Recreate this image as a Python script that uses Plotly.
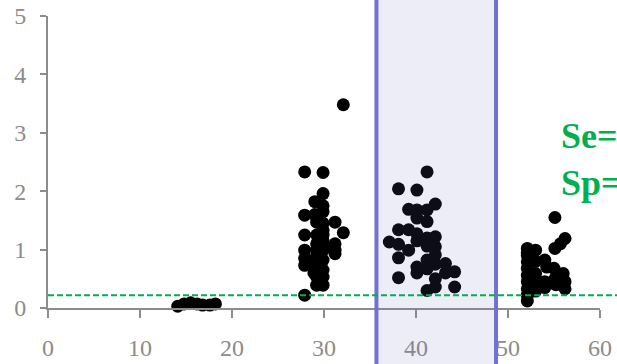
import plotly.graph_objects as go

# Group A (~15)
ga_x = [14.1, 14.8, 15.5, 16.2, 16.8, 17.6, 18.2]
ga_y = [0.03, 0.07, 0.09, 0.07, 0.05, 0.05, 0.07]

# Group B (~30)
gb_x = [27.9, 29.9, 32.1, 29.9, 29.0, 29.9, 29.9, 27.9, 29.2, 31.2, 32.1,
        27.9, 29.9, 29.2, 31.2, 31.2, 27.9, 29.9, 29.9, 29.2, 27.9, 29.2,
        29.9, 29.9, 29.2, 29.9, 29.2, 29.9, 27.9, 31.2, 31.0, 29.9, 29.9,
        29.2, 29.2, 28.8, 29.5, 29.5, 28.9, 29.0, 27.9]
gb_y = [2.33, 2.32, 3.48, 1.96, 1.82, 1.75, 1.65, 1.59, 1.47, 1.47, 1.29,
        1.25, 1.33, 1.10, 1.10, 0.99, 0.99, 0.99, 1.15, 0.90, 0.73, 0.70,
        0.82, 0.65, 0.53, 0.53, 0.39, 0.39, 0.22, 0.93, 1.05, 1.45, 1.25,
        1.25, 1.00, 0.80, 0.95, 1.20, 0.60, 1.60, 0.85]

# Group C (~40)
gc_x = [41.2, 38.1, 40.1, 39.2, 40.1, 40.1, 41.2, 42.1, 41.2, 38.1, 39.2,
        40.1, 37.1, 38.1, 39.2, 40.1, 41.2, 41.2, 42.1, 42.1, 42.1, 41.2,
        41.2, 38.1, 40.1, 40.1, 38.1, 42.1, 43.2, 44.2, 44.2, 42.1, 42.1,
        41.2, 43.2]
gc_y = [2.33, 2.04, 2.02, 1.69, 1.68, 1.54, 1.68, 1.78, 1.48, 1.34, 1.34,
        1.27, 1.13, 1.09, 0.99, 1.15, 1.20, 1.06, 1.22, 1.05, 0.91, 0.82,
        0.67, 0.86, 0.70, 0.60, 0.52, 0.75, 0.76, 0.62, 0.36, 0.50, 0.36,
        0.30, 0.60]

# Group D (~54)
gd_x = [55.1, 56.2, 55.7, 55.1, 52.1, 53.0, 52.1, 52.1, 52.1, 52.1, 52.1,
        52.1, 52.1, 52.1, 54.0, 54.2, 55.0, 53.0, 55.1, 56.0, 56.2, 53.0,
        54.0, 55.2, 56.2, 53.0, 54.0, 53.0, 52.1, 52.5]
gd_y = [1.55, 1.19, 1.10, 1.02, 1.02, 0.99, 0.90, 0.79, 0.68, 0.56, 0.45,
        0.33, 0.22, 0.12, 0.82, 0.70, 0.68, 0.59, 0.50, 0.59, 0.45, 0.40,
        0.45, 0.40, 0.33, 0.29, 0.35, 0.80, 0.95, 0.50]

cutoff = 0.22
band_x0, band_x1 = 35.7, 48.7
x_ticks = [0, 10, 20, 30, 40, 50, 60]
y_ticks = [0, 1, 2, 3, 4, 5]
label_lines = ["Se=", "Sp="]

fig = go.Figure()
for xs, ys in [(ga_x, ga_y), (gb_x, gb_y), (gc_x, gc_y), (gd_x, gd_y)]:
    fig.add_trace(go.Scatter(
        x=xs, y=ys, mode="markers", cliponaxis=False, showlegend=False,
        marker=dict(color="black", size=13, line=dict(width=0)),
    ))

fig.add_shape(type="rect", xref="x", yref="paper", x0=band_x0, x1=band_x1,
              y0=-0.5, y1=1.5, layer="above",
              fillcolor="rgba(110,110,190,0.12)",
              line=dict(color="#6e72d2", width=4))
fig.add_shape(type="line", xref="paper", yref="y", x0=0, x1=1.2,
              y0=cutoff, y1=cutoff, layer="above",
              line=dict(color="#00b050", width=2, dash="6px,3px"))

fig.add_annotation(xref="paper", yref="paper", x=(559 - 48) / 552, y=(308 - 159.5) / 292,
                   xanchor="left", yanchor="middle", align="left", showarrow=False,
                   text="<br>".join(label_lines),
                   font=dict(family="Liberation Serif", size=36, color="#00b050", weight="bold"))

axis_font = dict(family="Liberation Serif", size=24, color="#8c8c8c")
fig.update_xaxes(range=[0, 60], tickvals=x_ticks, showgrid=False, zeroline=False,
                 showline=True, linecolor="#8c8c8c", linewidth=2, automargin=False,
                 ticks="outside", ticklen=8, tickwidth=2, tickcolor="#8c8c8c",
                 tickfont=axis_font, ticklabelstandoff=9)
fig.update_yaxes(range=[0, 5], tickvals=y_ticks, showgrid=False, zeroline=False,
                 showline=True, linecolor="#8c8c8c", linewidth=2, automargin=False,
                 ticks="outside", ticklen=6, tickwidth=2, tickcolor="#8c8c8c",
                 tickfont=axis_font, ticklabelstandoff=9)
fig.update_layout(width=617, height=364, margin=dict(l=48, r=17, t=16, b=56),
                  plot_bgcolor="white", paper_bgcolor="white")
fig.write_html("out.html", config={"displayModeBar": False},
               post_script="document.body.style.margin='0px';")
